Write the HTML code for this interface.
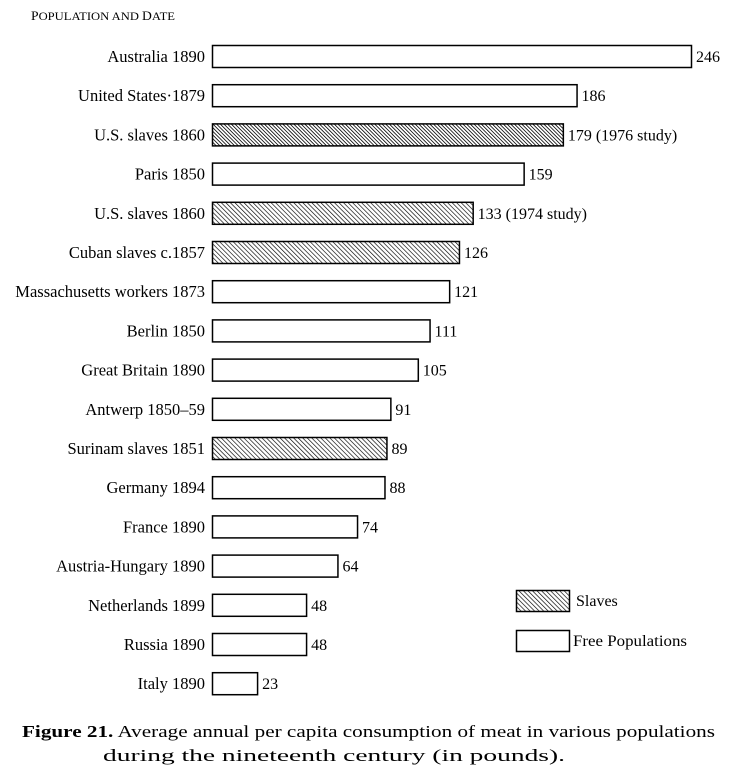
<!DOCTYPE html>
<html><head><meta charset="utf-8"><style>
body{margin:0;background:#fff;}
svg{display:block;font-family:"Liberation Serif",serif;}
</style></head><body>
<svg id="chart" width="742" height="773">
<defs>
<pattern id="hatch" patternUnits="userSpaceOnUse" width="3.2" height="3.2" patternTransform="rotate(-45)">
<rect width="3.2" height="3.2" fill="#fff"/><line x1="0" y1="0" x2="0" y2="3.2" stroke="#000" stroke-width="1.3"/></pattern>
<pattern id="hatchDense" patternUnits="userSpaceOnUse" width="2.6" height="2.6" patternTransform="rotate(-45)">
<rect width="2.6" height="2.6" fill="#fff"/><line x1="0" y1="0" x2="0" y2="2.6" stroke="#000" stroke-width="1.6"/></pattern>
</defs>
<text x="31" y="20" font-size="12" textLength="144" lengthAdjust="spacingAndGlyphs"><tspan font-size="13">P</tspan>OPULATION AND <tspan font-size="13">D</tspan>ATE</text>
<g id="bars"></g>
<g>
<rect x="516.5" y="590.5" width="53" height="21" fill="url(#hatch)" stroke="#000" stroke-width="1.5"/>
<text x="576" y="606" font-size="16">Slaves</text>
<rect x="516.5" y="630.5" width="53" height="21" fill="#fff" stroke="#000" stroke-width="1.5"/>
<text x="573" y="646" font-size="16" textLength="114" lengthAdjust="spacingAndGlyphs">Free Populations</text>
</g>
<text x="22" y="737" font-size="17" textLength="693" lengthAdjust="spacingAndGlyphs"><tspan font-weight="bold">Figure 21.</tspan> Average annual per capita consumption of meat in various populations</text>
<text x="103" y="761" font-size="17" textLength="462" lengthAdjust="spacingAndGlyphs">during the nineteenth century (in pounds).</text>
</svg>
<script>
const categories=["Australia 1890","United States·1879","U.S. slaves 1860","Paris 1850","U.S. slaves 1860","Cuban slaves c.1857","Massachusetts workers 1873","Berlin 1850","Great Britain 1890","Antwerp 1850–59","Surinam slaves 1851","Germany 1894","France 1890","Austria-Hungary 1890","Netherlands 1899","Russia 1890","Italy 1890"];
const values=[246,186,179,159,133,126,121,111,105,91,89,88,74,64,48,48,23];
const kinds=["free","free","slave76","free","slave","slave","free","free","free","free","slave","free","free","free","free","free","free"];
const notes=["","","(1976 study)","","(1974 study)","","","","","","","","","","","",""];
const x0=212,scale=1.96,y0=45,step=39.2,bh=22;
const xs=v=>x0+v*scale, ys=i=>y0+i*step;
const g=document.getElementById('bars');
const NS="http://www.w3.org/2000/svg";
categories.forEach((c,i)=>{
  const r=document.createElementNS(NS,'rect');
  r.setAttribute('x',x0+0.5);r.setAttribute('y',ys(i)+0.5);
  r.setAttribute('width',Math.min(xs(values[i]),691)-x0);r.setAttribute('height',bh);
  r.setAttribute('fill',kinds[i]=="free"?"#fff":kinds[i]=="slave76"?"url(#hatchDense)":"url(#hatch)");
  r.setAttribute('stroke','#000');r.setAttribute('stroke-width','1.5');
  
  
  g.appendChild(r);
  const l=document.createElementNS(NS,'text');
  l.setAttribute('x',205);l.setAttribute('y',ys(i)+17);l.setAttribute('text-anchor','end');l.setAttribute('font-size','16.5');
  l.textContent=c;
  
  
  g.appendChild(l);
  const t=document.createElementNS(NS,'text');
  t.setAttribute('x',Math.min(xs(values[i]),691)+5);t.setAttribute('y',ys(i)+17);t.setAttribute('font-size','16');
  t.textContent=values[i]+(notes[i]?" "+notes[i]:"");
  
  
  g.appendChild(t);
});
</script>
</body></html>
